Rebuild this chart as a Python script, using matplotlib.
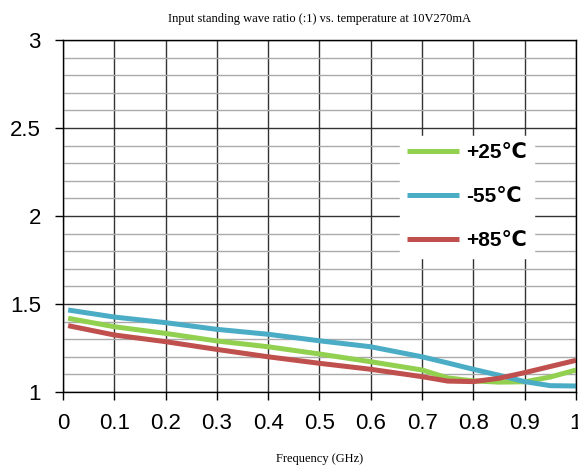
import numpy as np
import matplotlib
matplotlib.use('Agg')
import matplotlib.pyplot as plt
from matplotlib.ticker import MultipleLocator

# - Data -
freq = [0.01, 0.1, 0.2, 0.3, 0.4, 0.5, 0.6, 0.7, 0.75, 0.8, 0.85, 0.9, 0.95, 1.0]
vswr_25 = [1.419, 1.371, 1.333, 1.29, 1.257, 1.216, 1.172, 1.125, 1.08, 1.063, 1.056, 1.058, 1.085, 1.125]
vswr_m55 = [1.466, 1.426, 1.394, 1.356, 1.328, 1.291, 1.257, 1.20, 1.165, 1.129, 1.095, 1.059, 1.036, 1.034]
vswr_85 = [1.377, 1.324, 1.286, 1.242, 1.20, 1.163, 1.129, 1.087, 1.062, 1.059, 1.078, 1.11, 1.145, 1.18]
labels = ['+25℃', '-55℃', '+85℃']
colors = ['#92d050', '#4bacc6', '#c0504d']

fig = plt.figure(figsize=(5.78, 4.68), dpi=100)
ax = fig.add_axes([0.109, 0.1624, 0.8875, 0.752])

for y, lab, c in zip([vswr_25, vswr_m55, vswr_85], labels, colors):
    ax.plot(freq, y, color=c, lw=3.6, label=lab, solid_capstyle='butt')

ax.set_xlim(0, 1)
ax.set_ylim(1, 3)
ax.yaxis.set_minor_locator(MultipleLocator(0.1))
xt = np.round(np.arange(0, 1.01, 0.1), 1)
ax.set_xticks(xt)
ax.set_xticklabels(['0'] + [f'{v:g}' for v in xt[1:-1]] + ['1'])
ax.set_yticks([1, 1.5, 2, 2.5, 3])
ax.set_yticklabels(['1', '1.5', '2', '2.5', '3'])

ax.grid(which='major', axis='both', color='#333333', lw=1.0)
ax.grid(which='minor', axis='y', color='#aaaaaa', lw=1.0)
ax.set_axisbelow(True)
for s in ax.spines.values():
    s.set_color('black')
    s.set_linewidth(1.0)

ax.tick_params(which='major', direction='out', length=6, width=1, color='black',
               labelsize=16)
ax.tick_params(axis='y', pad=10)
ax.tick_params(axis='x', pad=9)
ax.tick_params(which='minor', length=0)
for t in ax.get_xticklabels() + ax.get_yticklabels():
    t.set_family(['Liberation Sans', 'DejaVu Sans'])

ax.set_title('Input standing wave ratio (:1) vs. temperature at 10V270mA',
             family='Liberation Serif', fontsize=9, pad=13)
ax.set_xlabel('Frequency (GHz)', family='Liberation Serif', fontsize=9, labelpad=14)

leg = ax.legend(loc='upper left', bbox_to_anchor=(0.657, 0.727), borderaxespad=0,
                frameon=True, fancybox=False, framealpha=1,
                facecolor='white', edgecolor='white', handlelength=2.5,
                labelspacing=1.2, borderpad=0.35, handletextpad=0.3,
                prop={'family': ['Liberation Sans', 'DejaVu Sans'], 'weight': 'bold', 'size': 15})

fig.savefig('out.png', dpi=100)
